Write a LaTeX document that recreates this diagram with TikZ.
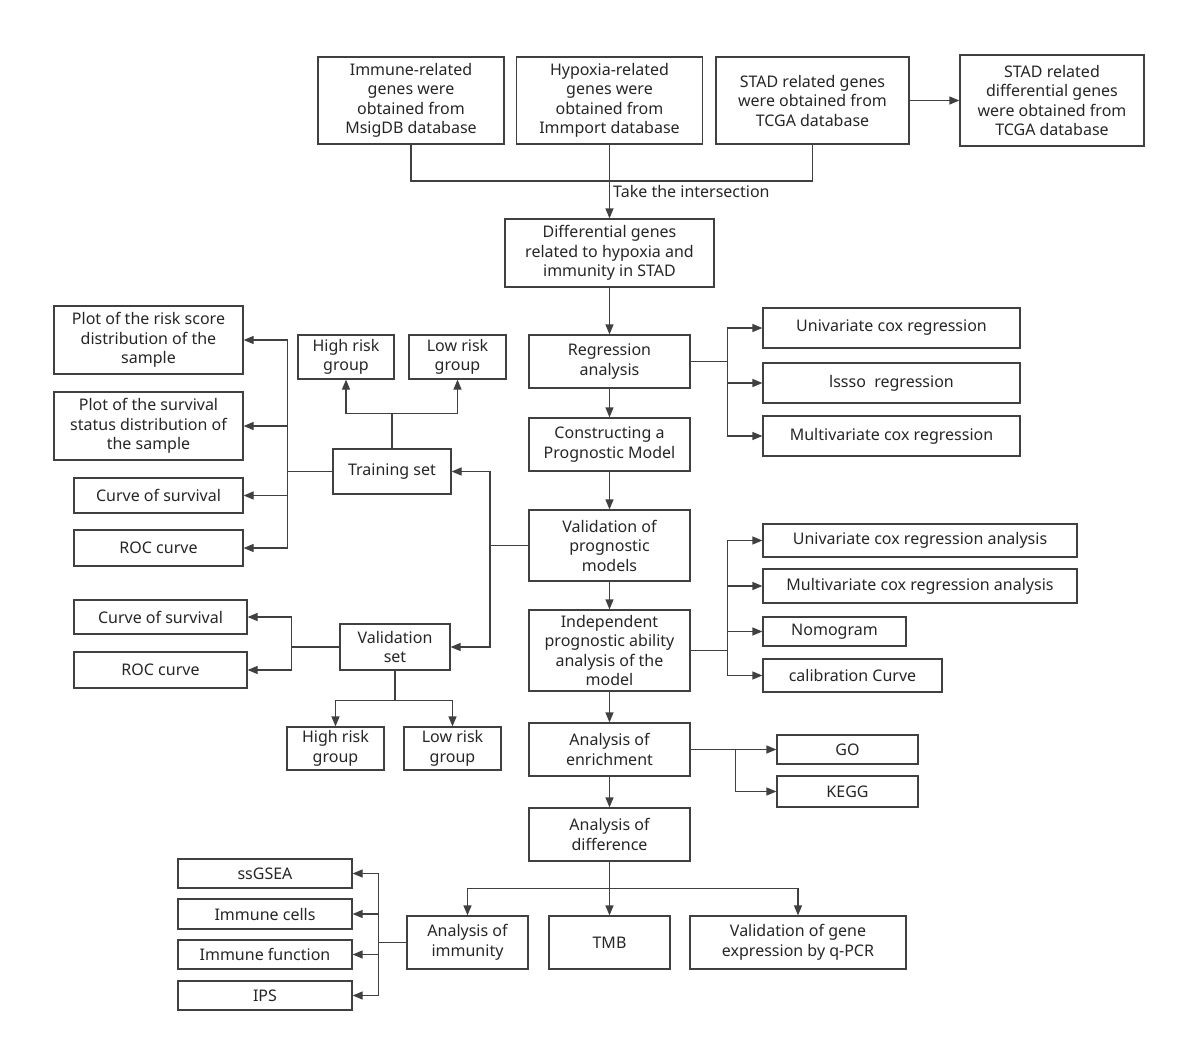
\documentclass[tikz,border=0pt]{standalone}
\usepackage{fontspec}
\setmainfont{Noto Sans}
\usetikzlibrary{arrows.meta}
\definecolor{lc}{HTML}{404040}
\definecolor{tc}{HTML}{262626}
\begin{document}
\begin{tikzpicture}[x=1pt,y=-1pt,
  box/.style={draw=lc,line width=1.2pt,align=center,inner sep=0pt,text=tc,
    font=\fontsize{16}{19.5}\selectfont},
  ln/.style={draw=lc,line width=1.2pt},
  arr/.style={ln,-{Triangle[length=10pt,width=8pt]}}]
\useasboundingbox (0,0) rectangle (1200,1052);
\newcommand\bx[6]{\node[box,minimum width=#4pt,minimum height=#5pt] (#1) at (#2,#3) {#6};}
% top row
\bx{imm}{411}{100.5}{186}{87}{Immune-related\\genes were\\obtained from\\MsigDB database}
\bx{hyp}{609.5}{100.5}{186}{87}{Hypoxia-related\\genes were\\obtained from\\Immport database}
\bx{stad}{812.5}{100.5}{193}{87}{STAD related genes\\were obtained from\\TCGA database}
\bx{stadd}{1052}{100.5}{184}{91}{STAD related\\differential genes\\were obtained from\\TCGA database}
% main column
\bx{diff}{609.5}{253}{209}{68}{Differential genes\\related to hypoxia and\\immunity in STAD}
\bx{reg}{609.5}{361.5}{161}{53}{Regression\\analysis}
\bx{con}{609.5}{444.5}{161}{53}{Constructing a\\Prognostic Model}
\bx{val}{609.5}{545.5}{161}{71}{Validation of\\prognostic\\models}
\bx{ind}{609.5}{650.5}{161}{81}{Independent\\prognostic ability\\analysis of the\\model}
\bx{enr}{609.5}{749.5}{161}{53}{Analysis of\\enrichment}
\bx{dif}{609.5}{834.5}{161}{53}{Analysis of\\difference}
% right side
\bx{uni}{891.5}{328}{257}{40}{Univariate cox regression}
\bx{las}{891.5}{383}{257}{40}{lssso\ \ regression}
\bx{mul}{891.5}{436}{257}{40}{Multivariate cox regression}
\bx{unia}{920}{540.5}{314}{33}{Univariate cox regression analysis}
\bx{mula}{920}{586}{314}{34}{Multivariate cox regression analysis}
\bx{nom}{834.5}{631.5}{143}{29}{Nomogram}
\bx{cal}{852.5}{675.5}{179}{33}{calibration Curve}
\bx{go}{847.5}{749.5}{141}{29}{GO}
\bx{kegg}{847.5}{791.5}{141}{31}{KEGG}
% training
\bx{train}{392}{471.5}{118}{45}{Training set}
\bx{hra}{346}{357}{96}{44}{High risk\\group}
\bx{lra}{457.5}{357}{97}{44}{Low risk\\group}
\bx{prs}{148.5}{340}{189}{68}{Plot of the risk score\\distribution of the\\sample}
\bx{pss}{148.5}{426}{189}{68}{Plot of the survival\\status distribution of\\the sample}
\bx{cosa}{158.5}{495.5}{169}{35}{Curve of survival}
\bx{roca}{158.5}{548}{169}{36}{ROC curve}
% validation set
\bx{vset}{395}{647}{110}{46}{Validation\\set}
\bx{cosb}{160.5}{617}{173}{34}{Curve of survival}
\bx{rocb}{160.5}{670}{173}{36}{ROC curve}
\bx{hrb}{335.5}{748.5}{97}{43}{High risk\\group}
\bx{lrb}{452.5}{748.5}{97}{43}{Low risk\\group}
% bottom
\bx{imn}{467.5}{942.5}{121}{53}{Analysis of\\immunity}
\bx{tmb}{609.5}{942.5}{121}{53}{TMB}
\bx{vge}{798}{942.5}{216}{53}{Validation of gene\\expression by q-PCR}
\bx{ssg}{265}{873.5}{174}{29}{ssGSEA}
\bx{imc}{265}{914}{174}{30}{Immune cells}
\bx{imf}{265}{954.5}{174}{29}{Immune function}
\bx{ips}{265}{995.5}{174}{29}{IPS}
% connectors top
\coordinate (j1) at (609.5,181);
\draw[ln] (imm.south) |- (j1) -| (stad.south);
\draw[arr] (hyp.south) -- (diff.north);
\node[anchor=west,inner sep=0pt,text=tc,font=\fontsize{16}{17}\selectfont] (lab) at (613,191) {Take the intersection};
\draw[arr] (stad.east) -- (stadd.west);
% main column arrows
\draw[arr] (diff.south) -- (reg.north);
\draw[arr] (reg.south) -- (con.north);
\draw[arr] (con.south) -- (val.north);
\draw[arr] (val.south) -- (ind.north);
\draw[arr] (ind.south) -- (enr.north);
\draw[arr] (enr.south) -- (dif.north);
% regression branches
\foreach \t in {uni,las,mul} \draw[arr] (reg.east) -- ++(37,0) |- (\t.west);
\foreach \t in {unia,mula,nom,cal} \draw[arr] (ind.east) -- ++(37,0) |- (\t.west);
\foreach \t in {go,kegg} \draw[arr] (enr.east) -- ++(45,0) |- (\t.west);
% training
\foreach \t in {hra,lra} \draw[arr] (train.north) -- ++(0,-35) -| (\t.south);
\foreach \t in {prs,pss,cosa,roca} \draw[arr] (train.west) -- ++(-45,0) |- (\t.east);
\coordinate (j2) at (490,545.5);
\draw[ln] (val.west) -- (j2);
\draw[arr] (j2) |- (train.east);
\draw[arr] (j2) |- (vset.east);
% validation set
\foreach \t in {cosb,rocb} \draw[arr] (vset.west) -- ++(-48,0) |- (\t.east);
\foreach \t in {hrb,lrb} \draw[arr] (vset.south) -- ++(0,30) -| (\t.north);
% bottom
\draw[arr] (dif.south) -- (tmb.north);
\foreach \t in {imn,vge} \draw[arr] (dif.south) -- ++(0,27) -| (\t.north);
\foreach \t in {ssg,imc,imf,ips} \draw[arr] (imn.west) -- ++(-28,0) |- (\t.east);
\end{tikzpicture}
\end{document}
